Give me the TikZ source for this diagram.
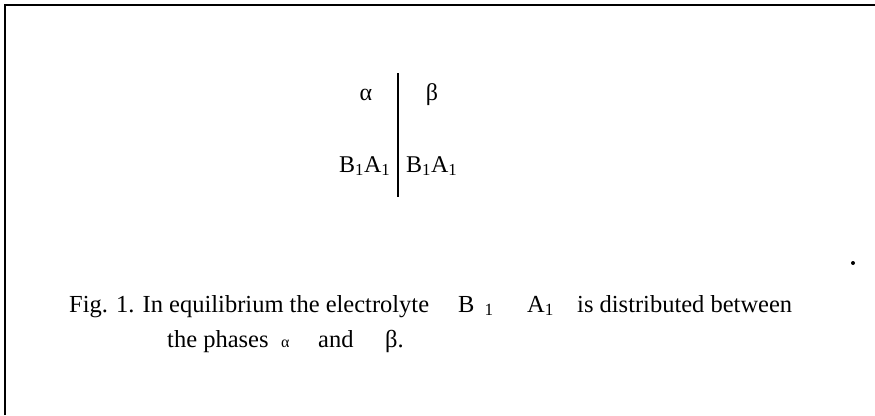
\documentclass[tikz,border=0pt]{standalone}
\usepackage{fontspec}
\setmainfont{Liberation Serif}
\usepackage{tikz}
\usetikzlibrary{positioning}
\tikzset{
  phase/.style   = {inner sep=0pt, anchor=base, font=\fontsize{24}{28}\selectfont},
  salt/.style    = {inner sep=0pt, anchor=base west, font=\fontsize{24}{28}\selectfont},
  captxt/.style  = {inner sep=0pt, anchor=base west, font=\fontsize{24.5}{29}\selectfont},
  frame/.style   = {line width=2pt, black}
}

\begin{document}
\begin{tikzpicture}[x=1pt, y=-1pt,
    wall/.style={line width=1.3pt}
]
\useasboundingbox (0,0) rectangle (875,415);
\draw[frame] (4.5,415) -- (4.5,4.5) -- (875,4.5);

% the two phases
\coordinate (top) at (398,73);
\coordinate (bot) at (398,197);
\draw[wall] (top) -- (bot);

\node[phase] (alpha) at (366,100) {α};
\node[phase] (beta)  at (432,100) {β};
\node[salt]  (salt1) at (339,172) {B\textsubscript{1}A\textsubscript{1}};
\node[salt]  (salt2) at (406,172) {B\textsubscript{1}A\textsubscript{1}};

% caption
\node[captxt] (cap1) at (69,312)  {Fig. 1. In equilibrium the electrolyte};
\node[captxt] (capB) at (458,312) {B\hspace{10pt}\textsubscript{1}};
\node[captxt] (capA) at (527,312) {A\textsubscript{1}};
\node[captxt] (cap2) at (577,312) {is distributed between};
\node[captxt] (cap3) at (167,347) {the phases};
\node[captxt] (capa) at (281,347) {\fontsize{16}{19}\selectfont α};
\node[captxt] (cap4) at (318,347) {and};
\node[captxt] (capb) at (385,347) {β.};

\fill (853,263) circle (2);
\end{tikzpicture}
\end{document}
